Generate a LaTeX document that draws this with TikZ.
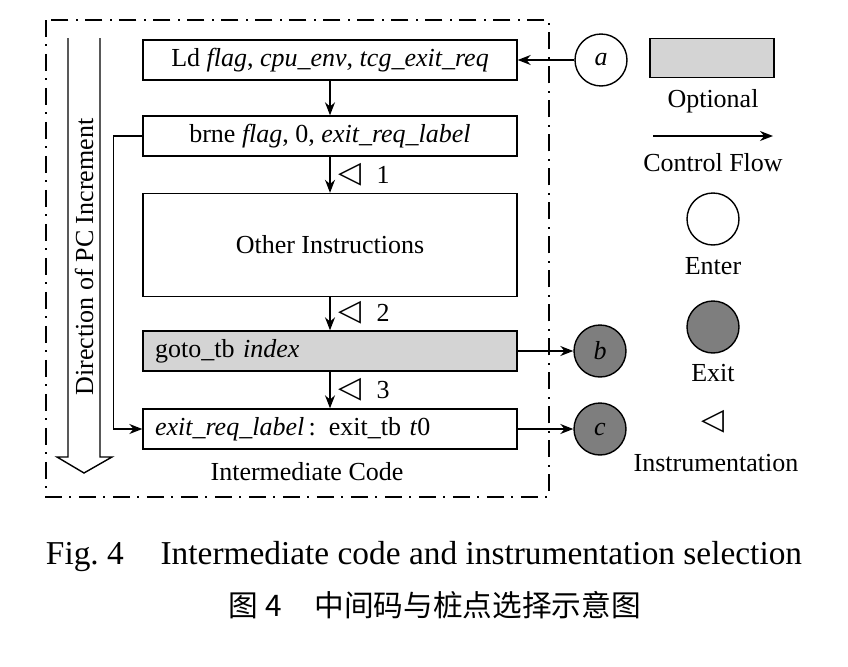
\documentclass[tikz,border=0pt]{standalone}
\usepackage{fontspec}
\setmainfont{Liberation Serif}
\newfontfamily\cjkfont{Noto Sans CJK SC}
\newfontfamily\symfont{DejaVu Sans}
\usepackage{xcolor}
\usepackage{tikz}
\usetikzlibrary{arrows.meta, positioning, calc}
\definecolor{optgray}{HTML}{D4D4D4}
\definecolor{exitgray}{HTML}{7E7E7E}

\begin{document}
\begin{tikzpicture}[x=0.02cm, y=-0.02cm, line width=0.8pt,
  codebox/.style={draw, minimum width=7.48cm, minimum height=0.8cm, inner sep=0pt,
               align=center, font=\fontsize{14.8}{17}\selectfont},
  leftbox/.style={codebox, text width=7.0cm, align=left, inner xsep=0.24cm},
  port/.style={draw, circle, minimum size=1.04cm, inner sep=0pt, font=\fontsize{14.8}{17}\selectfont\itshape},
  lbl/.style={font=\fontsize{14.8}{17}\selectfont},
  instr/.style={font=\fontsize{17}{19}\symfont, inner sep=0pt},
  arr/.style={-{Stealth[length=2.6mm, width=2mm]}},
]
  \useasboundingbox (0,0) rectangle (848,666);

  % Frame of the intermediate code
  \draw[dash pattern=on 0.34cm off 0.15cm on 0.04cm off 0.15cm] (46,20) rectangle (549,497);

  \node[codebox] (ld) at (330,60) {Ld \textit{flag}, \textit{cpu\_env}, \textit{tcg\_exit\_req}};
  \node[codebox] (brne) at (330,136) {brne \textit{flag}, 0, \textit{exit\_req\_label}};
  \node[codebox, minimum height=2.06cm] (other) at (330,245) {Other Instructions};
  \node[leftbox, fill=optgray] (gototb) at (330,351) {goto\_tb \textit{index}};
  \node[leftbox] (exittb) at (330,429) {\textit{exit\_req\_label}\,: exit\_tb \textit{t}0};
  \node[lbl] (imcode) at (307,472) {Intermediate Code};

  \foreach \i/\j in {ld/brne,brne/other,other/gototb,gototb/exittb} {
    \draw[arr] (\i) -- (\j);
  }
  \draw[arr] (brne.west) -- ++(-29,0) |- (exittb.west);

  % Instrumentation points
  \foreach \y/\n in {175/1,313/2,390/3} {
    \node[instr] (tri\n) at (350,\y) {◁};
    \node[lbl] (num\n) at (383,\y) {\n};
  }

  % Direction of PC increment
  \draw (68,38) -- (68,457) -- (57,457) -- (84,473) -- (112,457) -- (100,457) -- (100,38);
  \node[lbl, rotate=90] (pcdir) at (84,257) {Direction of PC Increment};

  % Enter and exits
  \node[port] (a) at (601,60) {a};
  \node[port, fill=exitgray] (b) at (600,351) {b};
  \node[port, fill=exitgray] (c) at (600,429) {c};
  \draw[arr] (a) -- (ld);
  \draw[arr] (gototb) -- (b);
  \draw[arr] (exittb) -- (c);

  % Legend
  \node[draw, fill=optgray, minimum width=2.48cm, minimum height=0.78cm] (optbox) at (712,58) {};
  \node[lbl] (optlbl) at (713,101) {Optional};
  \coordinate (cf0) at (653,136);
  \coordinate (cf1) at (773,136);
  \draw[arr] (cf0) -- (cf1);
  \node[lbl] (cflbl) at (713,163) {Control Flow};
  \node[port] (enter) at (713,219) {};
  \node[lbl] (enterlbl) at (713,266) {Enter};
  \node[port, fill=exitgray] (exit) at (713,327) {};
  \node[lbl] (exitlbl) at (713,373) {Exit};
  \node[instr] (tri) at (713,422) {◁};
  \node[lbl] (instrlbl) at (716,463) {Instrumentation};

  % Captions
  \node[font=\fontsize{19}{22}\selectfont] (capen) at (424,557)
    {Fig.\ 4\hspace{1.1em}Intermediate code and instrumentation selection};
  \node[font=\fontsize{16.9}{20}\cjkfont] (capzh) at (435,605)
    {图 4\hspace{1.1em}中间码与桩点选择示意图};
\end{tikzpicture}
\end{document}
